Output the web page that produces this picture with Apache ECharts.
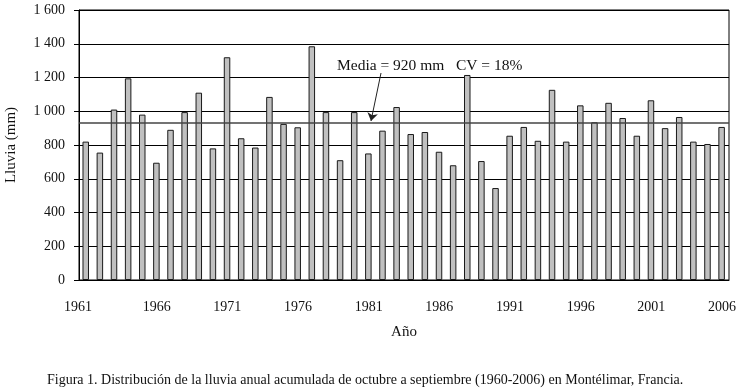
<!DOCTYPE html>
<html>
<head>
<meta charset="utf-8">
<script src="https://cdn.jsdelivr.net/npm/echarts@6/dist/echarts.min.js"></script>
<style>
  html, body { margin: 0; padding: 0; background: #fff; }
  #chart { width: 743px; height: 392px; }
</style>
</head>
<body>
<div id="chart"></div>
<script>
// años y lluvia anual (mm)
const years = [];
for (let y = 1961; y <= 2006; y++) years.push(String(y));
const rain = [
  820, 755, 1010, 1195, 980, 695, 890, 995, 1110,
  780, 1320, 840, 785, 1085, 925, 905, 1385, 995,
  710, 995, 750, 885, 1025, 865, 877, 760, 680,
  1215, 705, 545, 855, 907, 825, 1127, 820, 1035,
  935, 1050, 960, 855, 1065, 900, 966, 820, 806, 907
];
const meanLine = 930;

const serif = '"Liberation Serif", "DejaVu Serif", serif';

let chart = echarts.init(document.getElementById('chart'));
let option = {
  animation: false,
  textStyle: { fontFamily: serif },
  grid: {
    left: 79, right: 14, top: 10, bottom: 112,
    outerBoundsMode: 'none',
    show: true, borderColor: '#000', borderWidth: 1
  },
  xAxis: {
    type: 'category',
    data: years,
    boundaryGap: true,
    name: 'Año',
    nameLocation: 'middle',
    nameGap: 45,
    nameTextStyle: { fontSize: 15, color: '#111', fontFamily: serif },
    axisLine: { lineStyle: { color: '#000', width: 1 } },
    axisTick: { interval: 0, length: 5, lineStyle: { color: '#000' } },
    axisLabel: {
      interval: 4, margin: 20, fontSize: 14, color: '#111', fontFamily: serif,
      // el primer año va pegado al eje, como en el original
      formatter: (v, i) => i === 0 ? '{first|' + v + '}' : v,
      rich: { first: { fontSize: 14, fontFamily: serif, padding: [0, 16, 0, 0] } }
    }
  },
  yAxis: {
    type: 'value',
    min: 0, max: 1600, interval: 200,
    name: 'Lluvia (mm)',
    nameLocation: 'middle',
    nameGap: 60,
    nameRotate: 90,
    nameTextStyle: { fontSize: 15, color: '#111', fontFamily: serif },
    axisLine: { show: true, lineStyle: { color: '#000', width: 1 } },
    axisTick: { show: true, length: 5, lineStyle: { color: '#000' } },
    axisLabel: {
      margin: 14, fontSize: 14, color: '#111', fontFamily: serif,
      formatter: v => v >= 1000 ? Math.floor(v / 1000) + ' ' + String(v % 1000).padStart(3, '0') : String(v)
    },
    splitLine: { show: true, lineStyle: { color: '#000', width: 1 } }
  },
  series: [{
    type: 'bar',
    data: rain,
    barWidth: '46%',
    itemStyle: { color: '#c0c0c0', borderColor: '#1a1a1a', borderWidth: 1 },
    markLine: {
      silent: true,
      symbol: 'none',
      label: { show: false },
      lineStyle: { color: '#444', width: 1.5, type: 'solid' },
      data: [{ yAxis: meanLine }]
    }
  }, {
    // flecha de la anotación
    type: 'bar',
    data: [],
    markLine: {
      silent: true,
      symbol: ['none', 'arrow'],
      symbolSize: 8,
      label: { show: false },
      lineStyle: { color: '#222', width: 1, type: 'solid' },
      data: [[{ x: 381, y: 73 }, { x: 371, y: 121 }]]
    }
  }],
  graphic: [{
    type: 'text',
    left: 337, top: 58,
    style: {
      text: 'Media = 920 mm   CV = 18%',
      font: '15.5px ' + serif,
      fill: '#111'
    }
  }, {
    type: 'text',
    left: 47, top: 373,
    style: {
      text: 'Figura 1. Distribución de la lluvia anual acumulada de octubre a septiembre (1960-2006) en Montélimar, Francia.',
      font: '14px ' + serif,
      fill: '#111'
    }
  }]
};
chart.setOption(option, true);
</script>
</body>
</html>
